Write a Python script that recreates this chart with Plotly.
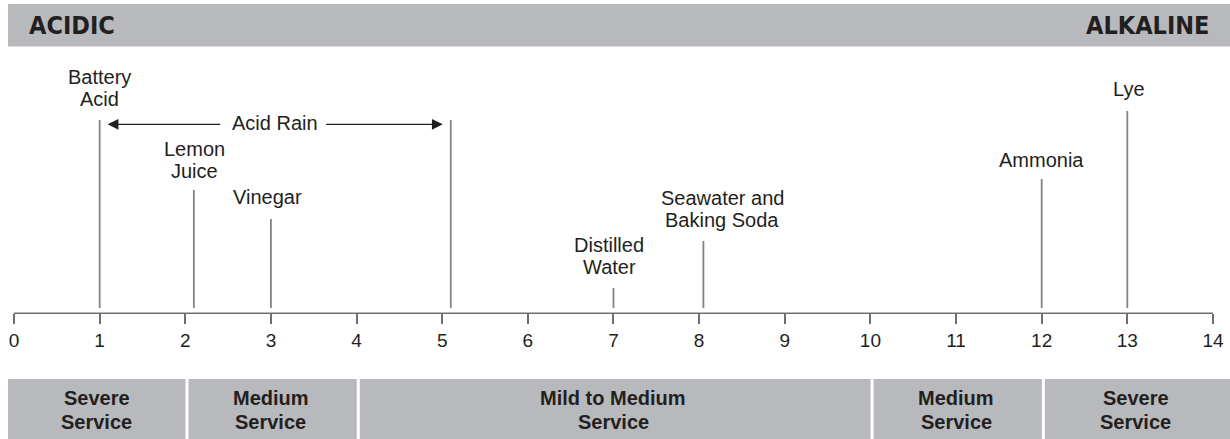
import plotly.graph_objects as go

# pH scale data
ph_ticks = list(range(0, 15))
substances = ["Battery\nAcid", "Lemon\nJuice", "Vinegar", "Distilled\nWater",
              "Seawater and\nBaking Soda", "Ammonia", "Lye"]
substance_ph = [1.0, 2.1, 3.0, 7.0, 8.05, 12.0, 13.0]
acid_rain_ph = [1.0, 5.1]
acid_rain_label = "Acid Rain"
side_labels = ["ACIDIC", "ALKALINE"]
service_labels = ["Severe\nService", "Medium\nService", "Mild to Medium\nService",
                  "Medium\nService", "Severe\nService"]
service_breaks = [2, 4, 10, 12]

# layout (pixel rows, y axis runs top->bottom)
W, H = 1230, 439
PX = 85.64          # pixels per pH unit
X0 = 14             # pixel column of pH 0
xmin = -X0 / PX
xmax = xmin + W / PX
AXIS_Y = 313.3
LINE_BOTTOM = 308
line_tops = [120, 190, 219, 288, 241, 179, 111]
label_y = [88, 160, 197, 256, 209, 160, 89]
label_dx = [0, 1, -3, -4, 19, 0, 2]
LINE_GAP = 22.5

TEXT = "#231f20"
GREY = "#b8b9bc"
LINEC = "#808285"
FONT = "Liberation Sans, Arial, Helvetica, sans-serif"
NARROW = "Liberation Sans Narrow, Arial Narrow, DejaVu Sans Condensed, Liberation Sans, sans-serif"


def px2ph(px):
    return xmin + px / PX


fig = go.Figure()

# vertical marker lines (substances + upper acid rain bound)
xs, ys = [], []
for ph, top in zip(substance_ph + [acid_rain_ph[1]], line_tops + [120]):
    xs += [ph, ph, None]
    ys += [top, LINE_BOTTOM, None]
fig.add_trace(go.Scatter(x=xs, y=ys, mode="lines", line=dict(color=LINEC, width=1.8),
                         hoverinfo="skip", showlegend=False))

shapes = []
annotations = []

# top band
shapes.append(dict(type="rect", xref="x", yref="y", x0=px2ph(8), x1=xmax, y0=4, y1=46.5,
                   fillcolor=GREY, line_width=0, layer="below"))
annotations.append(dict(x=px2ph(27), y=25.5, text="<b>%s</b>" % side_labels[0], xanchor="left",
                        showarrow=False, font=dict(family=NARROW, size=25, color=TEXT)))
annotations.append(dict(x=px2ph(1211), y=25.5, text="<b>%s</b>" % side_labels[1], xanchor="right",
                        showarrow=False, font=dict(family=NARROW, size=25, color=TEXT)))

# bottom service band
edges = [px2ph(8)] + service_breaks + [xmax]
shapes.append(dict(type="rect", xref="x", yref="y", x0=edges[0], x1=edges[-1], y0=379, y1=H,
                   fillcolor=GREY, line_width=0, layer="below"))
for b in service_breaks:
    shapes.append(dict(type="line", xref="x", yref="y", x0=b + 0.02, x1=b + 0.02, y0=379, y1=H,
                       line=dict(color="white", width=3)))
for i, lab in enumerate(service_labels):
    cx = (edges[i] + edges[i + 1]) / 2
    for j, part in enumerate(lab.split("\n")):
        annotations.append(dict(x=cx, y=398 + j * 23.5, text="<b>%s</b>" % part, showarrow=False,
                                font=dict(family=FONT, size=20, color=TEXT)))

# number line
shapes.append(dict(type="line", xref="x", yref="y", x0=0, x1=14, y0=AXIS_Y, y1=AXIS_Y,
                   line=dict(color="#6d6e71", width=1.6)))

# substance labels
for name, ph, ly, dx in zip(substances, substance_ph, label_y, label_dx):
    parts = name.split("\n")
    n = len(parts)
    for j, part in enumerate(parts):
        annotations.append(dict(x=ph, y=ly + (j - (n - 1) / 2) * LINE_GAP, text=part,
                                showarrow=False, xshift=dx,
                                font=dict(family=FONT, size=20, color=TEXT)))

# acid rain arrows
ARROW_Y = 124.3
lo, hi = acid_rain_ph
annotations.append(dict(x=lo + 8 / PX, y=ARROW_Y, ax=lo + 122 / PX, ay=ARROW_Y, axref="x", ayref="y",
                        text="", showarrow=True, arrowhead=2, arrowsize=1.8, arrowwidth=1.2,
                        arrowcolor=TEXT))
annotations.append(dict(x=hi - 8 / PX, y=ARROW_Y, ax=hi - 126 / PX, ay=ARROW_Y, axref="x", ayref="y",
                        text="", showarrow=True, arrowhead=2, arrowsize=1.8, arrowwidth=1.2,
                        arrowcolor=TEXT))
annotations.append(dict(x=px2ph(275), y=ARROW_Y - 1, text=acid_rain_label, showarrow=False,
                        font=dict(family=FONT, size=20, color=TEXT)))

fig.update_layout(
    width=W, height=H, margin=dict(l=0, r=0, t=0, b=0),
    paper_bgcolor="white", plot_bgcolor="white",
    shapes=shapes, annotations=annotations, showlegend=False,
    xaxis=dict(range=[xmin, xmax], tickvals=ph_ticks, ticktext=[str(t) for t in ph_ticks],
               showline=False, showgrid=False, zeroline=False,
               ticks="outside", ticklen=10, tickwidth=1.6, tickcolor="#6d6e71",
               tickfont=dict(family=FONT, size=19, color=TEXT),
               anchor="free", position=1 - AXIS_Y / H, fixedrange=True),
    yaxis=dict(range=[H, 0], visible=False, fixedrange=True),
)

fig.write_html("out.html", config={"displayModeBar": False},
               post_script="document.body.style.margin='0';")
